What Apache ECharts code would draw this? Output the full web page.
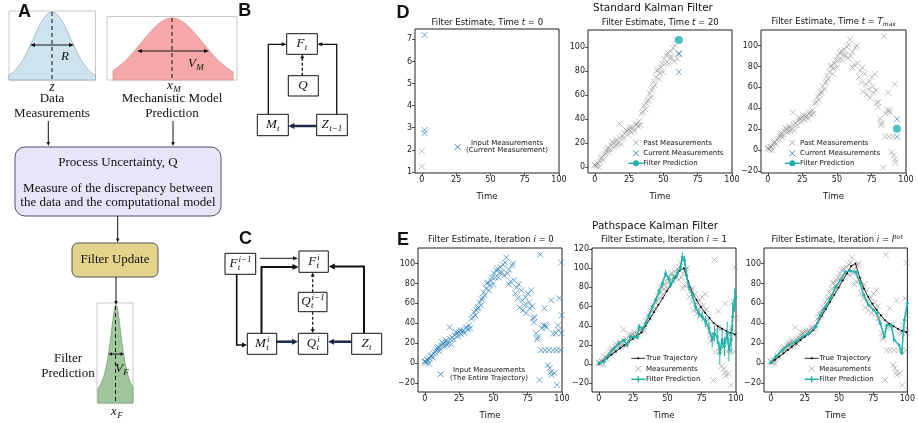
<!DOCTYPE html>
<html>
<head>
<meta charset="utf-8">
<script src="https://cdn.jsdelivr.net/npm/echarts@6/dist/echarts.min.js"></script>
<style>html,body{margin:0;padding:0;background:#fff}#main{width:918px;height:423px}</style>
</head>
<body>
<div id="main"></div>
<script>
// ---- data ----
var xTicks = [0, 25, 50, 75, 100];
var yTicksD1 = [1, 2, 3, 4, 5, 6, 7];
var yTicksD2 = [0, 20, 40, 60, 80, 100];
var yTicksD3 = [-20, 0, 20, 40, 60, 80, 100];
var yTicksE = [-20, 0, 20, 40, 60, 80, 100];
var yTicksE2 = [-20, 0, 20, 40, 60, 80, 100, 120];

// D, t = 0
var d1Past = [[0, 1.95], [0, 1.25]];
var d1Current = [[2, 7.2], [2, 2.9], [2, 2.75]];

// all measurements [time, value]
var measurements = [
  [0,1.3],[0,2],[1,0.5],[1.9,2.8],[2.2,3.0],[3,-0.4],[3.5,4.6],[4.3,7],[5,8],[5.8,5.5],
  [6.5,9.6],[7.5,11],[8.3,13],[9,15],[9.8,16],[10.5,12],[11.1,14.6],[12,18],[12.6,21],[13.5,19.6],
  [14.2,17],[15,21],[15.6,23],[16.2,18],[17,20],[18,36],[18.6,24],[19.4,19],[20,26],[21,24],
  [21.8,28],[22.6,31],[23.4,30],[24.2,27],[25,31],[25.8,33],[26.6,29],[27.4,32],[28.2,33],[29,30],
  [29.8,35],[30.6,36],[31.4,34],[32.2,38],[33,35],[34,44.6],[35,46],[36,51],[36.8,48],[37.5,53],
  [38.3,55],[39,56],[40,61],[40.8,58],[41.5,64],[42.2,66],[43,71],[43.7,68],[44.5,75],[45.2,80],
  [46,81],[46.8,73],[47.5,78],[48.3,83],[49,86],[49.8,79],[50.6,90],[51.4,86],[52.2,93],[53,95],
  [53.8,86],[54.6,91],[55.4,96],[56.2,91],[57,99],[57.8,88],[58.5,101],[59.4,106],[60.2,90],
  [61.3,94],[61.3,79],
  [62.5,82],[63.4,98],[64.3,100],[65,83],[66,70],[66.8,76],[67.8,65],[68.5,79],[69,56],[70.3,73],
  [71,63],[71.5,53],[72.7,58],[73.5,66],[73.9,50],[75.1,70],[76,61],[76.4,55],[77.6,73],[78.4,57],
  [78.8,45],[79.6,41],[80,46],[81.2,30],[82,24],[82.4,26],[83.6,-17],[84.2,109],[84.8,13],[85.4,35],
  [86.5,38],[87.2,55],[87.6,13],[88,38],[88.4,36],[89.6,-2],[90.4,13],[91,-5],[92,63],[92,-9],
  [92.4,-12],[93.4,29.7],[93.4,12.8],
  [94.5,-10],[95.5,30],[96,13],[96.3,-22],[97,38],[97.5,33],[98.1,65],[98.8,13],[99.3,101],[99.6,30],[99.8,48]
];

// D, t = 20
var d2Time = 61.3;
var d2Current = [[61.3, 94], [61.3, 94.6], [61.3, 79]];
var d2Pred = [[61.3, 105.6]];
// D, t = Tmax
var d3Time = 93.4;
var d3Current = [[93.4, 29.7], [93.4, 12.8]];
var d3Pred = [[93.4, 20.4]];

// true trajectory
var trueTime = [0,3.1,6.2,9.3,12.4,15.5,18.6,21.7,24.8,27.9,31,34.1,37.2,40.3,43.4,46.5,49.6,52.7,55.8,58.9,62,65.1,68.2,71.3,74.4,77.5,80.6,83.7,86.8,89.9,93,96.1,99.2];
var trueValue = [0,3.3,6.6,9.9,13.2,16.5,19.8,23.1,26.4,29.7,33,40,47.2,54.4,61.5,68.7,75.9,83,90.2,97.4,100,86,75,66.5,59.5,53.5,48,43,39.5,37,34.5,32.5,31];

// pathspace filter, iteration 1
var iter1Time = [0,3.6,7.3,11,14.6,18.2,20.7,23.1,25.6,28,29.3,31.7,34.2,36.6,39,41.4,43.9,46.3,48.7,51.1,52.3,54.7,57.2,59.6,60.8,62.5,64,65.6,68.1,70.5,72.9,75.4,77.8,80.2,82.6,84.3,86.3,88.2,89.9,91.6,93.6,94.8,96.5,97.5,99,100];
var iter1Value = [1,2.8,9.7,16.4,21.6,25,19.9,28.6,28.6,28,39,37,42.4,51,59.9,66.8,75.4,84,94.4,89.2,82.3,89.2,94.4,101.3,111.7,108,92.7,80.6,72,59.9,53,49.6,44.4,37.5,25.4,32.3,28.9,11.6,25.4,18.5,32.3,15,25.4,49.6,66.8,70];
var iter1Err = [1,1,1.5,1.5,2,2,2,2,2,2,3,2,2,2,2,2,3,3,4,3,3,4,4,4,5,5,5,4,4,4,5,5,6,6,8,8,8,12,10,10,12,12,14,15,12,10];

// pathspace filter, final iteration
var iterTotTime = [0,3.7,8.5,13.4,18.2,23.1,27.9,32.8,36.4,40,43.7,47.3,51,54.6,58.3,61.9,63.1,65.5,68,71.6,75.2,77.6,80.1,83.2,84.9,88.1,90.3,93.9,95.9,97.8,100];
var iterTotValue = [0.6,6.6,13.3,18.3,21.6,26.6,30,36.6,48.3,56.6,65,76,83.3,91.6,92.6,91.6,91.6,80,68.3,58.3,53.3,50,40,26.6,38.3,38.3,23.3,18.3,10,43.3,60];

// ---- styling ----
var SANS = '"DejaVu Sans", sans-serif';
var SERIF = '"Liberation Serif", "DejaVu Serif", serif';
var BOLD = '"Liberation Sans", Arial, sans-serif';
var BLUE = 'rgba(31,119,180,0.8)';
var GREY = 'rgba(128,128,128,0.6)';
var TEAL = '#20b2aa';
var NAVY = '#1b2a4a';
var X_PATH = 'path://M0,0L10,10M10,0L0,10';

function zip(a, b) {
  var out = [];
  for (var i = 0; i < a.length; i++) out.push([a[i], b[i]]);
  return out;
}
function before(arr, t) {
  return arr.filter(function (p) { return p[0] < t - 0.05; });
}
function minus(v) { return v < 0 ? '\u2212' + (-v) : String(v); }

// grids in pixels [left, top, width, height]
var gridBoxes = [
  [415, 29, 144, 144], [588, 30, 144, 143], [761, 30, 145, 143],
  [418, 248, 144, 144], [592, 248, 144, 144], [764, 248, 145, 144]
];
var yRanges = [[0.95, 7.47, yTicksD1], [-5, 114, yTicksD2], [-22, 115, yTicksD3],
  [-29, 115.6, yTicksE], [-29, 121, yTicksE2], [-29, 115.6, yTicksE]];

var grids = [], xAxes = [], yAxes = [];
gridBoxes.forEach(function (b, i) {
  grids.push({left: b[0], top: b[1], width: b[2], height: b[3], show: true,
    borderColor: '#222', borderWidth: 1, backgroundColor: 'transparent'});
  xAxes.push({gridIndex: i, type: 'value', min: -5, max: 100,
    splitLine: {show: false}, axisLine: {show: false, onZero: false},
    axisTick: {show: true, customValues: xTicks, length: 3, lineStyle: {color: '#222', width: 0.8}},
    axisLabel: {customValues: xTicks, fontSize: 8, color: '#222', margin: 3, fontFamily: SANS},
    name: 'Time', nameLocation: 'middle', nameGap: 19,
    nameTextStyle: {fontSize: 8.5, color: '#111', fontFamily: SANS}});
  yAxes.push({gridIndex: i, type: 'value', min: yRanges[i][0], max: yRanges[i][1],
    splitLine: {show: false}, axisLine: {show: false, onZero: false},
    axisTick: {show: true, customValues: yRanges[i][2], length: 3, lineStyle: {color: '#222', width: 0.8}},
    axisLabel: {customValues: yRanges[i][2], fontSize: 8, color: '#222', margin: 3, fontFamily: SANS, formatter: minus}});
});

function crosses(name, gi, data, color) {
  return {name: name, type: 'scatter', xAxisIndex: gi, yAxisIndex: gi, data: data,
    symbol: X_PATH, symbolSize: 6, silent: true,
    itemStyle: {color: 'none', borderColor: color, borderWidth: 1}};
}
function dot(name, gi, data) {
  return {name: name, type: 'scatter', xAxisIndex: gi, yAxisIndex: gi, data: data,
    symbol: 'circle', symbolSize: 8, silent: true, itemStyle: {color: TEAL}, z: 5};
}
function trueLine(gi) {
  return {name: 'True Trajectory', type: 'line', xAxisIndex: gi, yAxisIndex: gi,
    data: zip(trueTime, trueValue), symbol: 'circle', symbolSize: 2, showSymbol: true,
    lineStyle: {color: '#000', width: 0.8}, itemStyle: {color: '#000'}, silent: true, z: 3};
}
function predLine(gi, t, v) {
  return {name: 'Filter Prediction', type: 'line', xAxisIndex: gi, yAxisIndex: gi,
    data: zip(t, v), symbol: 'circle', symbolSize: 3, showSymbol: true,
    lineStyle: {color: TEAL, width: 1.5}, itemStyle: {color: TEAL}, silent: true, z: 4};
}

var series = [
  crosses('Past', 0, d1Past, GREY),
  crosses('Input Measurements', 0, d1Current, BLUE),

  crosses('Past Measurements', 1, before(measurements, d2Time), GREY),
  crosses('Current Measurements', 1, d2Current, BLUE),
  dot('Filter Prediction', 1, d2Pred),

  crosses('Past Measurements', 2, before(measurements, d3Time), GREY),
  crosses('Current Measurements', 2, d3Current, BLUE),
  dot('Filter Prediction', 2, d3Pred),

  crosses('Input Measurements', 3, measurements, BLUE),

  crosses('Measurements', 4, measurements, GREY),
  trueLine(4),
  {name: 'errors', type: 'custom', xAxisIndex: 4, yAxisIndex: 4, clip: true, silent: true, z: 4,
    data: iter1Time.map(function (t, i) { return [t, iter1Value[i], iter1Err[i]]; }),
    renderItem: function (params, api) {
      var a = api.coord([api.value(0), api.value(1) - api.value(2)]);
      var b = api.coord([api.value(0), api.value(1) + api.value(2)]);
      return {type: 'line', shape: {x1: a[0], y1: a[1], x2: b[0], y2: b[1]},
        style: {stroke: TEAL, lineWidth: 1}};
    }},
  predLine(4, iter1Time, iter1Value),

  crosses('Measurements', 5, measurements, GREY),
  trueLine(5),
  predLine(5, iterTotTime, iterTotValue)
];

// ---- drawn diagram and text (graphic) ----
var g = [];
var measureCtx = document.createElement('canvas').getContext('2d');
function textWidth(s, size) {
  measureCtx.font = 'italic ' + size + 'px "Liberation Serif"';
  return measureCtx.measureText(s).width;
}
function T(x, y, s, o) {
  o = o || {};
  g.push({type: 'text', x: x, y: y, z: 100, silent: true, style: {text: s,
    fontSize: o.size || 13, fontFamily: o.font || SERIF,
    fontStyle: o.italic ? 'italic' : 'normal', fontWeight: o.bold ? 'bold' : 'normal',
    fill: o.color || '#111', align: o.align || 'center', verticalAlign: 'middle', rich: o.rich}});
}
function R(x1, y1, x2, y2, fill, stroke, lw, r) {
  g.push({type: 'rect', z: 90, silent: true, shape: {x: x1, y: y1, width: x2 - x1, height: y2 - y1, r: r || 0},
    style: {fill: fill, stroke: stroke, lineWidth: lw}});
}
function L(pts, color, lw, dash) {
  g.push({type: 'polyline', z: 95, silent: true, shape: {points: pts},
    style: {stroke: color, lineWidth: lw, lineDash: dash || null, fill: null}});
}
function head(tip, from, color, len, wid) {
  var dx = tip[0] - from[0], dy = tip[1] - from[1];
  var d = Math.sqrt(dx * dx + dy * dy); dx /= d; dy /= d;
  var bx = tip[0] - dx * len, by = tip[1] - dy * len;
  g.push({type: 'polygon', z: 96, silent: true, shape: {points: [tip,
    [bx - dy * wid / 2, by + dx * wid / 2], [bx + dy * wid / 2, by - dx * wid / 2]]},
    style: {fill: color}});
}
function A(pts, color, lw, dash, len, wid) {
  len = len || 5; wid = wid || 4;
  var n = pts.length, tip = pts[n - 1], prev = pts[n - 2];
  var dx = tip[0] - prev[0], dy = tip[1] - prev[1];
  var d = Math.sqrt(dx * dx + dy * dy);
  var line = pts.slice(0, n - 1).concat([[tip[0] - dx / d * len * 0.7, tip[1] - dy / d * len * 0.7]]);
  L(line, color, lw, dash);
  head(tip, prev, color, len, wid);
}
// italic math symbol with optional subscript / superscript, centred on (cx, cy)
function M(cx, cy, main, sub, sup) {
  var mw = textWidth(main, 13);
  var sw = Math.max(sub ? textWidth(sub, 9) : 0, sup ? textWidth(sup, 9) : 0);
  var left = cx - (mw + sw + 0.5) / 2;
  T(left, cy, main, {italic: true, align: 'left', size: 13});
  if (sub) T(left + mw + 0.3, cy + 3.8, sub, {italic: true, align: 'left', size: 9});
  if (sup) T(left + mw + 1, cy - 4.5, sup, {italic: true, align: 'left', size: 9});
}
function curve(fn, x1, x2, base, fill, stroke) {
  var pts = [[x1, base]];
  for (var x = x1; x <= x2; x += 0.5) pts.push([x, fn(x)]);
  pts.push([x2, base]);
  g.push({type: 'polygon', z: 92, silent: true, shape: {points: pts},
    style: {fill: fill, stroke: stroke, lineWidth: 0.8}});
}
function box(x1, y1, x2, y2) { R(x1, y1, x2, y2, '#fff', '#111', 1); }

// panel letters
T(24.5, 12, 'A', {font: BOLD, bold: true, size: 18});
T(244.7, 11.5, 'B', {font: BOLD, bold: true, size: 18});
T(245.5, 239, 'C', {font: BOLD, bold: true, size: 18});
T(403, 13, 'D', {font: BOLD, bold: true, size: 18});
T(403, 240, 'E', {font: BOLD, bold: true, size: 18});

// A: measurement gaussian
R(9, 11, 95.5, 80, 'none', '#c8c8c8', 1);
curve(function (x) { return 80 - 68 * Math.exp(-Math.pow((x - 52) / 18.7, 2) / 2); }, 9, 95.5, 80, '#cde4ef', '#8fa9b5');
L([[52, 12], [52, 80]], '#111', 1, [4, 3]);
A([[52, 45], [74, 45]], '#111', 1, null, 5, 4);
A([[52, 45], [30, 45]], '#111', 1, null, 5, 4);
T(65, 57, 'R', {italic: true, size: 13});
T(52, 87, 'z', {italic: true, size: 14});
T(52, 99, 'Data', {size: 13});
T(52, 114, 'Measurements', {size: 13});
// A: model gaussian
R(107, 16.5, 237, 80, 'none', '#c8c8c8', 1);
curve(function (x) { return 80 - 62 * Math.exp(-Math.pow((x - 172) / 30.6, 2) / 2); }, 113, 233, 80, '#f6a8a8', '#c99');
L([[172, 18], [172, 80]], '#111', 1, [4, 3]);
A([[172, 51], [209, 51]], '#111', 1, null, 5, 4);
A([[172, 51], [137, 51]], '#111', 1, null, 5, 4);
M(196, 64, 'V', 'M');
M(174, 86, 'x', 'M');
T(172, 99, 'Mechanistic Model', {size: 13});
T(172, 114, 'Prediction', {size: 13});
// A: flow
A([[48.3, 121], [48.3, 146]], '#111', 1, null, 4, 3.5);
A([[173, 121], [173, 146]], '#111', 1, null, 4, 3.5);
R(15, 147, 221, 216, '#e7e5f7', '#4d5178', 1, 10);
T(118, 163, 'Process Uncertainty, Q', {size: 13});
T(118, 189, 'Measure of the discrepancy between', {size: 13});
T(118, 203, 'the data and the computational model', {size: 13});
A([[117.7, 216], [117.7, 242.5]], '#111', 1, null, 4, 3.5);
R(72, 243, 158, 277, '#e3d48c', '#555', 1, 6);
T(115, 260, 'Filter Update', {size: 13});
A([[116, 277], [116, 305]], '#111', 1, null, 4, 3.5);
// A: filter gaussian
R(97, 303, 133, 403, 'none', '#c8c8c8', 1);
curve(function (x) { return 403 - 98 / (1 + Math.pow((x - 116) / 7.5, 2)); }, 98, 133, 403, '#9fc79b', '#7a9a77');
L([[115.5, 306], [115.5, 402]], '#111', 1, [4, 3]);
A([[116, 354], [124, 354]], '#111', 1, null, 3.5, 3.5);
A([[116, 354], [108.5, 354]], '#111', 1, null, 3.5, 3.5);
M(122, 369, 'V', 'F');
M(117, 412, 'x', 'F');
T(68, 359, 'Filter', {size: 13});
T(68, 374, 'Prediction', {size: 13});

// B: standard filter graph
box(286.7, 33.7, 317.3, 54.3); M(302, 44, 'F', 't');
box(288.3, 75.7, 318.3, 96); M(303.3, 86, 'Q');
box(257.3, 114.3, 288.3, 135.7); M(272.8, 125, 'M', 't');
box(316.7, 114.3, 347.3, 135.7); M(332, 125, 'Z', 't\u22121');
A([[268.3, 114.3], [268.3, 44.3], [286.7, 44.3]], '#111', 1.3, null, 5, 4);
A([[336.7, 114.3], [336.7, 44.3], [317.3, 44.3]], '#111', 1.3, null, 5, 4);
A([[302.3, 75.7], [302.3, 54.3]], '#111', 1.3, [3, 2], 4, 4);
A([[316.7, 126], [288.3, 126]], NAVY, 2.5, null, 6, 6);

// C: pathspace filter graph
box(225, 253.3, 255.7, 274.3); M(240.3, 264, 'F', 't', 'i\u22121');
box(299, 251, 328.3, 272.3); M(313.7, 262, 'F', 't', 'i');
box(298.3, 292.3, 327, 311.7); M(312.7, 302, 'Q', 't', 'i\u22121');
box(247.3, 333.3, 276.7, 354.3); M(262, 344, 'M', 't', 'i');
box(298.3, 333.3, 327.7, 354.3); M(313, 344, 'Q', 't', 'i');
box(351.7, 333.3, 381.7, 354.3); M(366.7, 344, 'Z', 't');
A([[260, 258.3], [298, 258.3]], '#111', 1, null, 5, 4);
A([[261.5, 333.3], [261.5, 267], [298.5, 267]], '#111', 2, null, 6, 6);
A([[236.7, 274.3], [236.7, 345], [247, 345]], '#111', 1.6, null, 5, 5);
A([[364, 333.3], [364, 266.5], [328.8, 266.5]], '#111', 2, null, 6, 6);
A([[312.7, 292.3], [312.7, 272.5]], '#111', 1.2, [3, 2], 4, 4);
A([[312.7, 311.7], [312.7, 333]], '#111', 1.2, [3, 2], 4, 4);
A([[276.7, 341.7], [298, 341.7]], NAVY, 2.5, null, 6, 6);
A([[351.7, 341.7], [328, 341.7]], NAVY, 2.5, null, 6, 6);

// chart titles
var richT = {
  a: {fontSize: 8.5, fontFamily: SANS, color: '#111'},
  i: {fontSize: 8.5, fontFamily: SANS, fontStyle: 'italic', color: '#111'},
  s: {fontSize: 6, fontFamily: SANS, fontStyle: 'italic', color: '#111', padding: [5, 0, 0, 0]},
  u: {fontSize: 6, fontFamily: SANS, fontStyle: 'italic', color: '#111', padding: [0, 0, 5, 0]}
};
T(653, 8.5, 'Standard Kalman Filter', {font: SANS, size: 10.5});
T(655, 226, 'Pathspace Kalman Filter', {font: SANS, size: 10.5});
T(487.3, 22.7, '{a|Filter Estimate, Time }{i|t}{a| = 0}', {rich: richT, size: 8.5});
T(660.3, 22.3, '{a|Filter Estimate, Time }{i|t}{a| = 20}', {rich: richT, size: 8.5});
T(833.7, 22, '{a|Filter Estimate, Time }{i|t}{a| = }{i|T}{s|max}', {rich: richT, size: 8.5});
T(490.8, 240, '{a|Filter Estimate, Iteration }{i|i}{a| = 0}', {rich: richT, size: 8.5});
T(664, 240, '{a|Filter Estimate, Iteration }{i|i}{a| = 1}', {rich: richT, size: 8.5});
T(837, 240, '{a|Filter Estimate, Iteration }{i|i}{a| = }{i|I}{u|tot}', {rich: richT, size: 8.5});

// legends
function lx(cx, cy, color) {
  L([[cx - 3, cy - 3], [cx + 3, cy + 3]], color, 1);
  L([[cx - 3, cy + 3], [cx + 3, cy - 3]], color, 1);
}
function lt(x, y, s) { T(x, y, s, {font: SANS, size: 7, align: 'left'}); }
function legendD(cx, tx) {
  lx(cx, 142.7, GREY); lt(tx, 142.7, 'Past Measurements');
  lx(cx, 153.3, BLUE); lt(tx, 153.3, 'Current Measurements');
  L([[cx - 7.5, 163.3], [cx + 7.5, 163.3]], TEAL, 1.5);
  g.push({type: 'circle', z: 97, shape: {cx: cx, cy: 163.3, r: 3}, style: {fill: TEAL}});
  lt(tx, 163.3, 'Filter Prediction');
}
function legendE(cx, tx) {
  L([[cx - 7, 358.3], [cx + 7, 358.3]], '#000', 0.8);
  g.push({type: 'circle', z: 97, shape: {cx: cx, cy: 358.3, r: 1}, style: {fill: '#000'}});
  lt(tx, 358.3, 'True Trajectory');
  lx(cx, 368.7, GREY); lt(tx, 368.7, 'Measurements');
  L([[cx - 7, 379.3], [cx + 7, 379.3]], TEAL, 1.5);
  L([[cx, 376], [cx, 382.6]], TEAL, 1);
  g.push({type: 'circle', z: 97, shape: {cx: cx, cy: 379.3, r: 1.5}, style: {fill: TEAL}});
  lt(tx, 379.3, 'Filter Prediction');
}
lx(457.7, 147, BLUE);
T(507, 142.7, 'Input Measurements', {font: SANS, size: 7});
T(507, 150.5, '(Current Measurement)', {font: SANS, size: 7});
legendD(636, 643.3);
legendD(792.3, 800);
lx(440.7, 374.3, BLUE);
T(489, 370, 'Input Measurements', {font: SANS, size: 7});
T(489, 377.8, '(The Entire Trajectory)', {font: SANS, size: 7});
legendE(638.3, 646);
legendE(811.7, 819.3);

var chart = echarts.init(document.getElementById('main'));
chart.setOption({
  animation: false,
  backgroundColor: '#fff',
  grid: grids,
  xAxis: xAxes,
  yAxis: yAxes,
  series: series,
  graphic: {elements: g}
});
</script>
</body>
</html>
